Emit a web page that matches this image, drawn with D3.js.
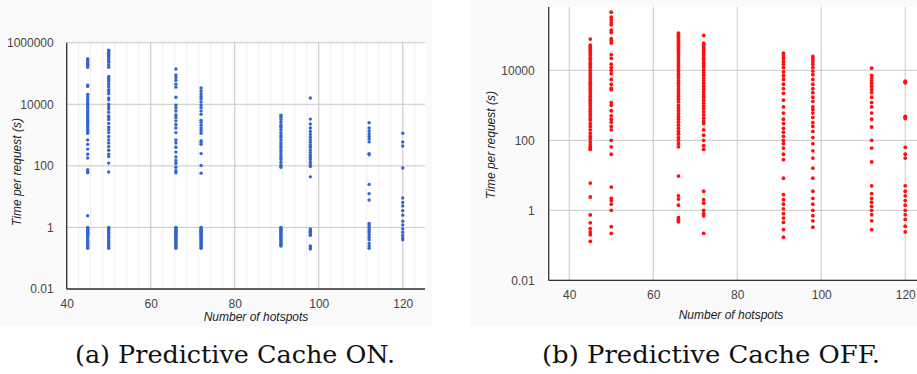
<!DOCTYPE html>
<html>
<head>
<meta charset="utf-8">
<script src="https://cdn.jsdelivr.net/npm/d3@7"></script>
<style>
  html, body { margin: 0; padding: 0; background: #fff; }
  svg { display: block; }
  .tick-label { font-family: "Liberation Sans", Arial, sans-serif; font-size: 12px; fill: #444; }
  .axis-title { font-family: "Liberation Sans", Arial, sans-serif; font-size: 12px; font-style: italic; fill: #222; }
</style>
</head>
<body>
<div id="chart"></div>
<script>
// hotspot counts (x) shared by both panels
const hotspots = [45, 50, 66, 72, 91, 98, 112, 120];

// time per request (s), Predictive Cache ON, one list per hotspot count
const timesOn = [
  [300000, 280000, 250000, 220000, 200000, 180000, 160000, 42000, 38000,
   21000, 18000, 15000, 13000, 11000, 9500, 8200, 7000, 6000, 5200, 4500, 3900, 3400, 3000, 2600, 2300, 2000, 1700, 1500, 1300, 1150,
   690, 500, 350, 240, 180, 75, 65, 60, 2.4,
   1.0, 0.95, 0.9, 0.85, 0.8, 0.75, 0.7, 0.65, 0.6, 0.55, 0.5, 0.45, 0.4, 0.36, 0.33, 0.3, 0.27, 0.25, 0.23, 0.21],
  [570000, 520000, 470000, 420000, 380000, 340000, 300000, 260000, 230000, 190000, 160000,
   80000, 70000, 62000, 55000, 45000, 37000, 30000, 26000, 22000, 16000, 14000,
   10000, 8500, 7000, 5500, 4200, 3800, 3200, 2400, 1800, 1500, 1200, 900, 700, 550, 420, 320, 240, 200, 123, 63,
   1.0, 0.92, 0.85, 0.78, 0.7, 0.62, 0.55, 0.48, 0.42, 0.37, 0.32, 0.28, 0.24, 0.21],
  [140000, 90000, 75000, 60000, 45000, 36000, 17000, 9300, 7500, 6000, 4500, 3700, 2900, 2200, 1700, 1200,
   690, 550, 400, 280, 195, 150, 120, 90, 70, 60,
   1.0, 0.95, 0.9, 0.85, 0.8, 0.75, 0.7, 0.66, 0.62, 0.58, 0.54, 0.5, 0.46, 0.43, 0.4, 0.37, 0.34, 0.31, 0.29, 0.27, 0.25, 0.23, 0.21],
  [34000, 27000, 22000, 18000, 15000, 12000, 9500, 7700, 6000, 4700, 3000, 2600, 2100, 1700, 1400, 1150,
   650, 580, 500, 250, 103, 58,
   1.0, 0.95, 0.9, 0.85, 0.8, 0.75, 0.7, 0.66, 0.62, 0.58, 0.54, 0.5, 0.46, 0.43, 0.4, 0.37, 0.34, 0.31, 0.29, 0.27, 0.25, 0.23, 0.21],
  [4400, 3800, 3200, 2600, 2100, 1800, 1500, 1200, 1000, 850, 700, 560, 480, 400, 330, 280, 230, 190, 160, 130, 105, 90,
   1.0, 0.93, 0.86, 0.8, 0.74, 0.68, 0.62, 0.57, 0.52, 0.47, 0.43, 0.39, 0.35, 0.32, 0.29, 0.27, 0.25],
  [16000, 3300, 2300, 1700, 1300, 1050, 850, 700, 580, 470, 400, 330, 270, 220, 190, 160, 130, 110, 95, 44,
   0.9, 0.82, 0.75, 0.68, 0.6, 0.55, 0.25, 0.22, 0.2],
  [2500, 1700, 1350, 1100, 900, 750, 600, 250, 230, 25, 12.5, 7.8,
   1.35, 1.2, 1.05, 0.9, 0.8, 0.7, 0.58, 0.48, 0.4, 0.3, 0.25, 0.21],
  [1150, 600, 440, 85, 9, 6.5, 5, 3.5, 2.5, 1.6, 1.2, 0.9, 0.7, 0.55, 0.45, 0.4]
];

// time per request (s), Predictive Cache OFF
const timesOff = [
  [78000, 52000, 45000, 40000, 35000, 30000, 26000, 22000, 19000, 16000, 14000, 12000, 10000, 8500, 7300, 6300, 5400, 4600, 4000,
   3400, 2900, 2500, 2100, 1800, 1500, 1300, 1100, 950, 800, 680, 580, 500, 420, 380, 300, 250, 200, 160, 130, 110, 90, 75, 65, 60, 55,
   6, 2.4, 0.74, 0.44, 0.3, 0.24, 0.2, 0.13],
  [460000, 330000, 280000, 230000, 200000, 140000, 120000, 80000, 70000, 60000, 28000, 22000, 15000, 12000, 10000, 8000, 5500, 4000,
   3100, 2800, 1200, 1000, 700, 500, 400, 330, 250, 200, 100, 65, 40, 4.6, 2.2, 1.9, 1.5, 1.0, 0.34, 0.22],
  [115000, 100000, 90000, 80000, 70000, 62000, 55000, 48000, 42000, 37000, 32000, 28000, 24000, 21000, 18000, 15500, 13000, 11000,
   9500, 8000, 7000, 6000, 5000, 4300, 3600, 3000, 2500, 2100, 1800, 1500, 1250, 1000, 850, 700, 580, 480, 400, 330, 270, 220, 180,
   150, 120, 100, 80, 65, 9.5, 2.6, 2.1, 1.4, 0.62, 0.55, 0.5, 0.47],
  [100000, 60000, 55000, 50000, 45000, 40000, 35000, 30000, 26000, 22000, 19000, 16000, 14000, 12000, 10000, 8500, 7200, 6000, 5000,
   4200, 3500, 2900, 2400, 2000, 1700, 1400, 1150, 950, 800, 650, 530, 430, 350, 300, 200, 140, 100, 70, 55,
   3.5, 2.0, 1.6, 1.0, 0.8, 0.7, 0.22],
  [31000, 26000, 22000, 18000, 15000, 12000, 9000, 7000, 5500, 4000, 3000, 2200, 1400, 900, 600, 400, 300, 220, 170, 130, 100, 80, 60,
   40, 28, 8.3, 2.8, 2.0, 1.5, 1.1, 0.8, 0.6, 0.45, 0.28, 0.17],
  [25000, 21000, 18000, 15000, 12000, 9500, 7500, 5500, 4000, 3000, 2300, 1700, 1300, 900, 750, 600, 450, 320, 250, 180, 120, 80, 50,
   31, 16, 8.3, 3.5, 2.2, 1.5, 1.0, 0.7, 0.5, 0.33],
  [11500, 7200, 6000, 5000, 4200, 3500, 2800, 2300, 1700, 1200, 900, 600, 400, 240, 100, 60, 24, 5, 3, 2.2, 1.7, 1.3, 1.0, 0.75, 0.5, 0.28],
  [4900, 4600, 4400, 480, 450, 420, 63, 40, 31, 5, 3.5, 2.6, 1.9, 1.4, 1.0, 0.75, 0.55, 0.35, 0.24]
];

const xTicks = [40, 60, 80, 100, 120];
const yTicksOn = [0.01, 1, 100, 10000, 1000000];
const yTicksOff = [0.01, 1, 100, 10000];
const xTitle = "Number of hotspots";
const yTitle = "Time per request (s)";
const captions = ["(a) Predictive Cache ON.", "(b) Predictive Cache OFF."];

const W = 917, H = 374;
const svg = d3.select("#chart").append("svg")
    .attr("width", W).attr("height", H)
    .attr("viewBox", `0 0 ${W} ${H}`);

function flatten(times) {
  const pts = [];
  times.forEach((col, i) => col.forEach(v => pts.push({x: hotspots[i], y: v})));
  return pts;
}

function panel(opt) {
  const x = d3.scaleLinear().domain(opt.xDomain).range([opt.left, opt.right]);
  const y = d3.scaleLog().domain(opt.yDomain).range([opt.bottom, opt.top]);
  const g = svg.append("g");

  g.append("rect")
    .attr("x", opt.bg[0]).attr("y", opt.bg[1])
    .attr("width", opt.bg[2]).attr("height", opt.bg[3])
    .attr("fill", "#fafafa");
  g.append("rect")
    .attr("x", opt.left).attr("y", opt.top)
    .attr("width", opt.right - opt.left).attr("height", opt.bottom - opt.top)
    .attr("fill", "#fff");

  if (opt.minor) {
    g.append("g").selectAll("line")
      .data(d3.range(opt.xDomain[0], opt.xDomain[1], 20 / 7))
      .join("line")
        .attr("x1", d => x(d)).attr("x2", d => x(d))
        .attr("y1", opt.top).attr("y2", opt.bottom)
        .attr("stroke", "#ececec").attr("stroke-width", 1);
  }
  g.append("g").selectAll("line")
    .data(xTicks)
    .join("line")
      .attr("x1", d => x(d)).attr("x2", d => x(d))
      .attr("y1", opt.top).attr("y2", opt.bottom)
      .attr("stroke", "#c8c8c8").attr("stroke-width", 1);
  g.append("g").selectAll("line")
    .data(opt.yTicks)
    .join("line")
      .attr("x1", opt.left).attr("x2", opt.right)
      .attr("y1", d => y(d)).attr("y2", d => y(d))
      .attr("stroke", "#c8c8c8").attr("stroke-width", 1);

  // axes: only the labels from d3 axes, baselines drawn below
  const xAxis = g.append("g")
    .attr("transform", `translate(0,${opt.bottom})`)
    .call(d3.axisBottom(x).tickValues(xTicks).tickSize(0).tickPadding(opt.xPad).tickFormat(d3.format("d")));
  const yAxis = g.append("g")
    .attr("transform", `translate(${opt.left},0)`)
    .call(d3.axisLeft(y).tickValues(opt.yTicks).tickSize(0).tickPadding(opt.yPad)
      .tickFormat(d => d < 1 ? String(d) : d3.format("d")(d)));
  [xAxis, yAxis].forEach(a => {
    a.select(".domain").remove();
    a.selectAll("text").attr("class", "tick-label").attr("fill", null).attr("font-size", null).attr("font-family", null);
  });

  g.append("line")
    .attr("x1", opt.left).attr("x2", opt.right)
    .attr("y1", opt.bottom).attr("y2", opt.bottom)
    .attr("stroke", "#333").attr("stroke-width", 1.3);
  g.append("line")
    .attr("x1", opt.left).attr("x2", opt.left)
    .attr("y1", opt.top).attr("y2", opt.bottom)
    .attr("stroke", "#333").attr("stroke-width", 1.3);

  g.append("g").selectAll("circle")
    .data(flatten(opt.times))
    .join("circle")
      .attr("cx", d => x(d.x))
      .attr("cy", d => y(d.y))
      .attr("r", opt.r)
      .attr("fill", opt.color);

  g.append("text").attr("class", "axis-title")
    .attr("x", opt.xTitle[0]).attr("y", opt.xTitle[1])
    .attr("text-anchor", "middle").text(xTitle);
  g.append("text").attr("class", "axis-title")
    .attr("transform", `translate(${opt.yTitle[0]},${opt.yTitle[1]}) rotate(-90)`)
    .attr("text-anchor", "middle").text(yTitle);

  g.append("text")
    .attr("x", opt.caption[0]).attr("y", opt.caption[1])
    .attr("font-family", "DejaVu Serif")
    .attr("font-size", 24)
    .attr("fill", "#111")
    .attr("textLength", opt.caption[2]).attr("lengthAdjust", "spacingAndGlyphs")
    .text(opt.caption[3]);
}

panel({
  times: timesOn, yTicks: yTicksOn,
  xDomain: [40, 125.3], yDomain: [0.01, 1000000],
  left: 66.7, right: 425, top: 42.7, bottom: 289,
  bg: [0, 0, 432, 326],
  minor: true, color: "#3366cc", r: 1.7,
  xPad: 10, yPad: 13,
  xTitle: [256, 321], yTitle: [21, 172],
  caption: [75, 363, 320, captions[0]]
});

panel({
  times: timesOff, yTicks: yTicksOff,
  xDomain: [35.1, 122.8], yDomain: [0.01, 645000],
  left: 548.7, right: 917, top: 7, bottom: 280.3,
  bg: [470, 0, 447, 326],
  minor: false, color: "#ff1010", r: 1.9,
  xPad: 10, yPad: 14,
  xTitle: [731, 319], yTitle: [495, 145],
  caption: [542, 363, 338, captions[1]]
});
</script>
</body>
</html>
